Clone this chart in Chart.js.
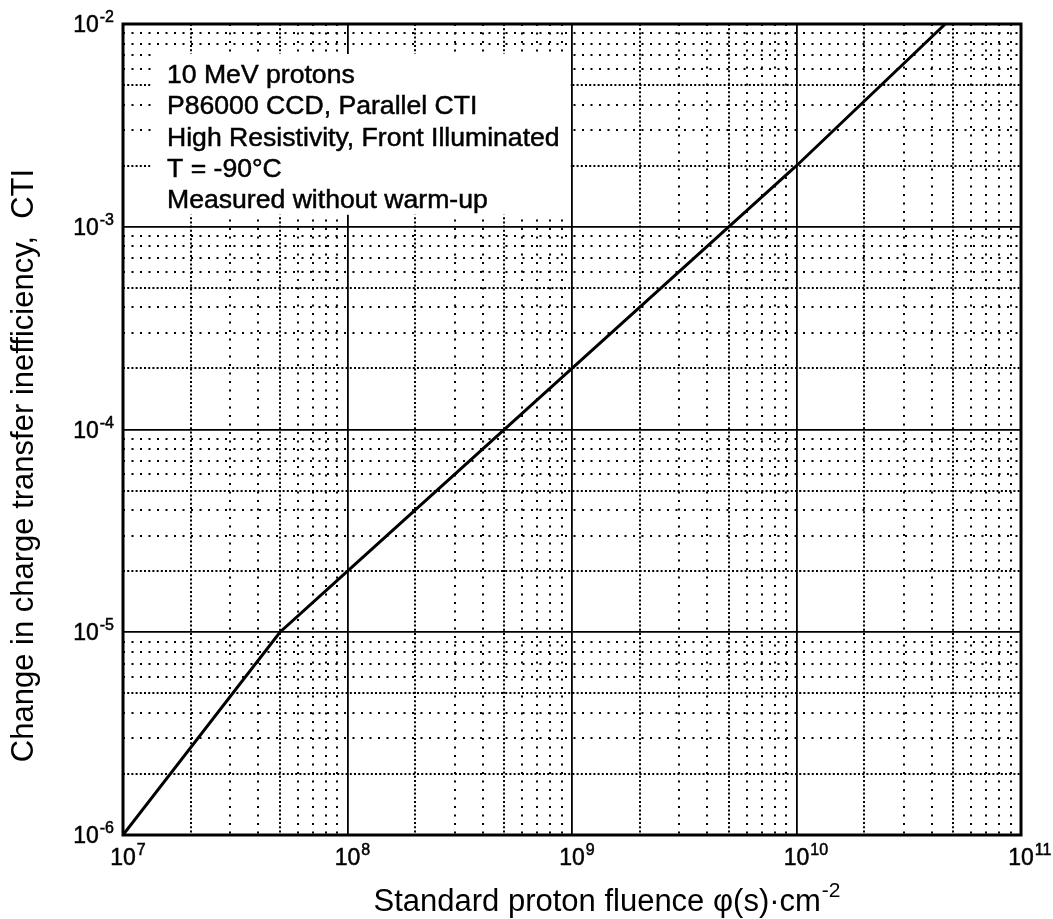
<!DOCTYPE html>
<html>
<head>
<meta charset="utf-8">
<script src="https://cdn.jsdelivr.net/npm/chart.js@4.4.1/dist/chart.umd.min.js"></script>
<style>
html,body{margin:0;padding:0;background:#fff;}
#wrap{width:1053px;height:919px;position:relative;}
</style>
</head>
<body>
<div id="wrap"><canvas id="c" width="1053" height="919"></canvas></div>
<script>
// ---- data ----
const fluence = [1e7, 5e7, 1e8, 1e9, 1e10, 4.6e10];          // standard proton fluence (cm^-2)
const cti     = [1e-6, 1e-5, 2e-5, 2e-4, 2e-3, 1e-2];        // change in CTI
const xTickExponents = [7, 8, 9, 10, 11];
const yTickExponents = [-6, -5, -4, -3, -2];
const minorMultipliers = [2, 3, 4, 5, 6, 7, 8, 9];
const denseMultipliers = [2, 5];
const noteLines = [
  '10 MeV protons',
  'P86000 CCD, Parallel CTI',
  'High Resistivity, Front Illuminated',
  'T = -90°C',
  'Measured without warm-up'
];
const xTitleMain = 'Standard proton fluence φ(s)·cm';
const xTitleExp = '-2';
const yTitle = 'Change in charge transfer inefficiency,  CTI';

const FONT = '"Liberation Sans", Arial, Helvetica, sans-serif';
const pow10 = e => Number('1e' + e);

function drawPowerLabel(ctx, exp, x, baseline, mode) {
  ctx.font = '23px ' + FONT;
  const wBase = ctx.measureText('10').width;
  ctx.font = '16px ' + FONT;
  const wExp = ctx.measureText(String(exp)).width;
  let x0;
  if (mode === 'right') x0 = x - wBase - 1 - wExp;
  else x0 = x - wBase / 2;
  ctx.textAlign = 'left';
  ctx.textBaseline = 'alphabetic';
  ctx.font = '23px ' + FONT;
  ctx.fillText('10', x0, baseline);
  ctx.strokeText('10', x0, baseline);
  ctx.font = '16px ' + FONT;
  ctx.fillText(String(exp), x0 + wBase + 1, baseline - 10);
  ctx.strokeText(String(exp), x0 + wBase + 1, baseline - 10);
}

const paperPlugin = {
  id: 'paper',
  beforeDatasetsDraw(chart) {
    const { ctx, chartArea: a, scales: { x, y } } = chart;
    ctx.save();
    ctx.beginPath();
    ctx.rect(a.left, a.top, a.right - a.left, a.bottom - a.top);
    ctx.clip();
    ctx.strokeStyle = '#000';
    ctx.lineWidth = 2;
    // vertical minor dotted grid
    for (let i = 0; i < xTickExponents.length - 1; i++) {
      const base = pow10(xTickExponents[i]);
      minorMultipliers.forEach(m => {
        const px = Math.round(x.getPixelForValue(m * base));
        ctx.setLineDash(denseMultipliers.includes(m) ? [2, 2.2] : [2, 6.5]);
        ctx.beginPath(); ctx.moveTo(px, a.top); ctx.lineTo(px, a.bottom); ctx.stroke();
      });
    }
    // horizontal minor dotted grid
    for (let i = 0; i < yTickExponents.length - 1; i++) {
      const base = pow10(yTickExponents[i]);
      minorMultipliers.forEach(m => {
        const py = Math.round(y.getPixelForValue(m * base));
        ctx.setLineDash(denseMultipliers.includes(m) ? [2, 2.2] : [2, 6.5]);
        ctx.beginPath(); ctx.moveTo(a.left, py); ctx.lineTo(a.right, py); ctx.stroke();
      });
    }
    ctx.setLineDash([]);
    // white annotation box
    const bx = a.left + 29;
    const by = a.top + 30;
    const br = x.getPixelForValue(pow10(9)) - 2;
    const bb = y.getPixelForValue(pow10(-3)) - 12;
    ctx.fillStyle = '#fff';
    ctx.fillRect(bx, by, br - bx, bb - by);
    ctx.restore();
  },
  afterDraw(chart) {
    const { ctx, chartArea: a, scales: { x, y } } = chart;
    ctx.save();
    // frame
    ctx.strokeStyle = '#000';
    ctx.lineWidth = 3;
    ctx.strokeRect(a.left, a.top, a.right - a.left, a.bottom - a.top);
    ctx.fillStyle = '#000';
    ctx.lineWidth = 0.5;
    // y tick labels
    yTickExponents.forEach(e => {
      const py = y.getPixelForValue(pow10(e));
      drawPowerLabel(ctx, e, a.left - 9, py + 8, 'right');
    });
    // x tick labels
    xTickExponents.forEach(e => {
      const px = x.getPixelForValue(pow10(e));
      drawPowerLabel(ctx, e, px, a.bottom + 30, 'center');
    });
    // annotation text
    ctx.font = '26.6px ' + FONT;
    ctx.textAlign = 'left';
    ctx.textBaseline = 'alphabetic';
    noteLines.forEach((t, i) => {
      const ty = a.top + 59 + i * 31.3;
      ctx.fillText(t, a.left + 44, ty);
      ctx.strokeText(t, a.left + 44, ty);
    });
    // x title
    ctx.font = '31px ' + FONT;
    const wMain = ctx.measureText(xTitleMain).width;
    ctx.font = '21px ' + FONT;
    const wE = ctx.measureText(xTitleExp).width;
    const cx = (a.left + a.right) / 2 + 35;
    const sx = cx - (wMain + wE + 1) / 2;
    ctx.font = '31px ' + FONT;
    ctx.fillText(xTitleMain, sx, a.bottom + 76);
    ctx.font = '21px ' + FONT;
    ctx.fillText(xTitleExp, sx + wMain + 1, a.bottom + 62);
    // y title
    ctx.translate(33, (a.top + a.bottom) / 2 + 36);
    ctx.rotate(-Math.PI / 2);
    ctx.font = '31px ' + FONT;
    ctx.textAlign = 'center';
    ctx.fillText(yTitle, 0, 0);
    ctx.restore();
  }
};

new Chart(document.getElementById('c'), {
  type: 'line',
  data: {
    datasets: [{
      data: fluence.map((v, i) => ({ x: v, y: cti[i] })),
      borderColor: '#000',
      borderWidth: 3,
      pointRadius: 0,
      tension: 0,
      fill: false
    }]
  },
  options: {
    responsive: false,
    animation: false,
    events: [],
    layout: { padding: { left: 123, top: 24, right: 32, bottom: 84 } },
    plugins: { legend: { display: false }, tooltip: { enabled: false } },
    scales: {
      x: {
        type: 'logarithmic',
        min: pow10(7), max: pow10(11),
        afterBuildTicks: s => { s.ticks = xTickExponents.map(e => ({ value: pow10(e) })); },
        ticks: { display: false },
        grid: { color: '#000', lineWidth: 1.8, drawTicks: false },
        border: { display: false },
        title: { display: false }
      },
      y: {
        type: 'logarithmic',
        min: pow10(-6), max: pow10(-2),
        afterBuildTicks: s => { s.ticks = yTickExponents.map(e => ({ value: pow10(e) })); },
        ticks: { display: false },
        grid: { color: '#000', lineWidth: 1.8, drawTicks: false },
        border: { display: false },
        title: { display: false }
      }
    }
  },
  plugins: [paperPlugin]
});
</script>
</body>
</html>
